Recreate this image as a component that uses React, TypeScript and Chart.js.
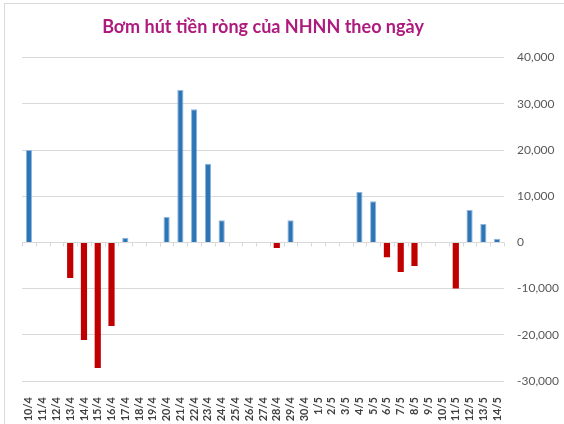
import React, { useEffect, useRef } from 'react';
import { Chart, registerables } from 'chart.js';

Chart.register(...registerables);

const titleText = 'Bơm hút tiền ròng của NHNN theo ngày';

const categories = [
  '10/4', '11/4', '12/4', '13/4', '14/4', '15/4', '16/4', '17/4', '18/4', '19/4',
  '20/4', '21/4', '22/4', '23/4', '24/4', '25/4', '26/4', '27/4', '28/4', '29/4',
  '30/4', '1/5', '2/5', '3/5', '4/5', '5/5', '6/5', '7/5', '8/5', '9/5',
  '10/5', '11/5', '12/5', '13/5', '14/5',
];

const netValues = [
  20000, 0, 0, -7700, -21100, -27200, -18100, 1000, 0, 0,
  5500, 33000, 28800, 17000, 4800, 0, 0, 0, -1200, 4800,
  0, 0, 0, 0, 10900, 8900, -3200, -6400, -5100, 0,
  0, -10000, 7000, 4000, 800,
];

const yMin = -30000;
const yMax = 40000;
const yStep = 10000;

const POS_COLOR = '#2E75B6';
const POS_EDGE = '#8FB6DE';
const NEG_COLOR = '#C00000';

export default function App() {
  const ref = useRef<HTMLCanvasElement>(null);

  useEffect(() => {
    if (!ref.current) return;
    const zeroTicks = {
      id: 'zeroTicks',
      afterDatasetsDraw(chart: any) {
        const { ctx, scales } = chart;
        const x = scales.x;
        const y = scales.y;
        const y0 = Math.round(y.getPixelForValue(0)) + 0.5;
        ctx.save();
        ctx.strokeStyle = '#d9d9d9';
        ctx.lineWidth = 1;
        for (let i = 0; i <= categories.length; i++) {
          const px = Math.round(x.getPixelForValue(i - 0.5)) + 0.5;
          ctx.beginPath();
          ctx.moveTo(px, y0);
          ctx.lineTo(px, y0 + 4);
          ctx.stroke();
        }
        ctx.restore();
      },
    };

    const chart = new Chart(ref.current, {
      type: 'bar',
      data: {
        labels: categories,
        datasets: [
          {
            data: netValues,
            backgroundColor: netValues.map((v) => (v >= 0 ? POS_COLOR : NEG_COLOR)),
            borderColor: netValues.map((v) => (v >= 0 ? POS_EDGE : NEG_COLOR)),
            borderWidth: netValues.map((v) => (v >= 0 ? 1 : 0)),
            barPercentage: 0.45,
            categoryPercentage: 1,
          },
        ],
      },
      options: {
        responsive: false,
        animation: false,
        layout: { padding: { left: 22, right: 4, top: 0, bottom: 0 } },
        plugins: {
          legend: { display: false },
          tooltip: { enabled: false },
          title: {
            display: true,
            text: titleText,
            fullSize: false,
            color: '#AE1A7E',
            font: { family: 'Lato', size: 18, weight: 'bold' },
            padding: { top: 16, bottom: 20 },
          },
        },
        scales: {
          x: {
            afterFit: (axis: any) => {
              axis.height = 43;
            },
            grid: { display: false },
            border: { display: false },
            ticks: {
              autoSkip: false,
              maxRotation: 90,
              minRotation: 90,
              padding: 8,
              color: '#404040',
              font: { family: 'Lato', size: 11, weight: 'bold' },
            },
          },
          y: {
            position: 'right',
            min: yMin,
            max: yMax,
            afterFit: (axis: any) => {
              axis.width = 56;
            },
            grid: { color: '#d9d9d9', lineWidth: 1, drawTicks: false },
            border: { display: false },
            ticks: {
              stepSize: yStep,
              padding: 13,
              color: '#595959',
              font: { family: 'Lato', size: 12 },
              callback: (v: any) => Number(v).toLocaleString('en-US'),
            },
          },
        },
      },
      plugins: [zeroTicks],
    });
    return () => chart.destroy();
  }, []);

  return (
    <div style={{ position: 'fixed', left: 0, top: 0, width: 564, height: 424, background: '#fff' }}>
      <div
        style={{
          position: 'absolute',
          left: 4,
          top: 3,
          right: 0,
          bottom: 0,
          borderLeft: '1px solid #d9d9d9',
          borderTop: '1px solid #d9d9d9',
        }}
      />
      <canvas ref={ref} width={564} height={424} style={{ position: 'absolute', left: 0, top: 0, display: 'block' }} />
    </div>
  );
}
